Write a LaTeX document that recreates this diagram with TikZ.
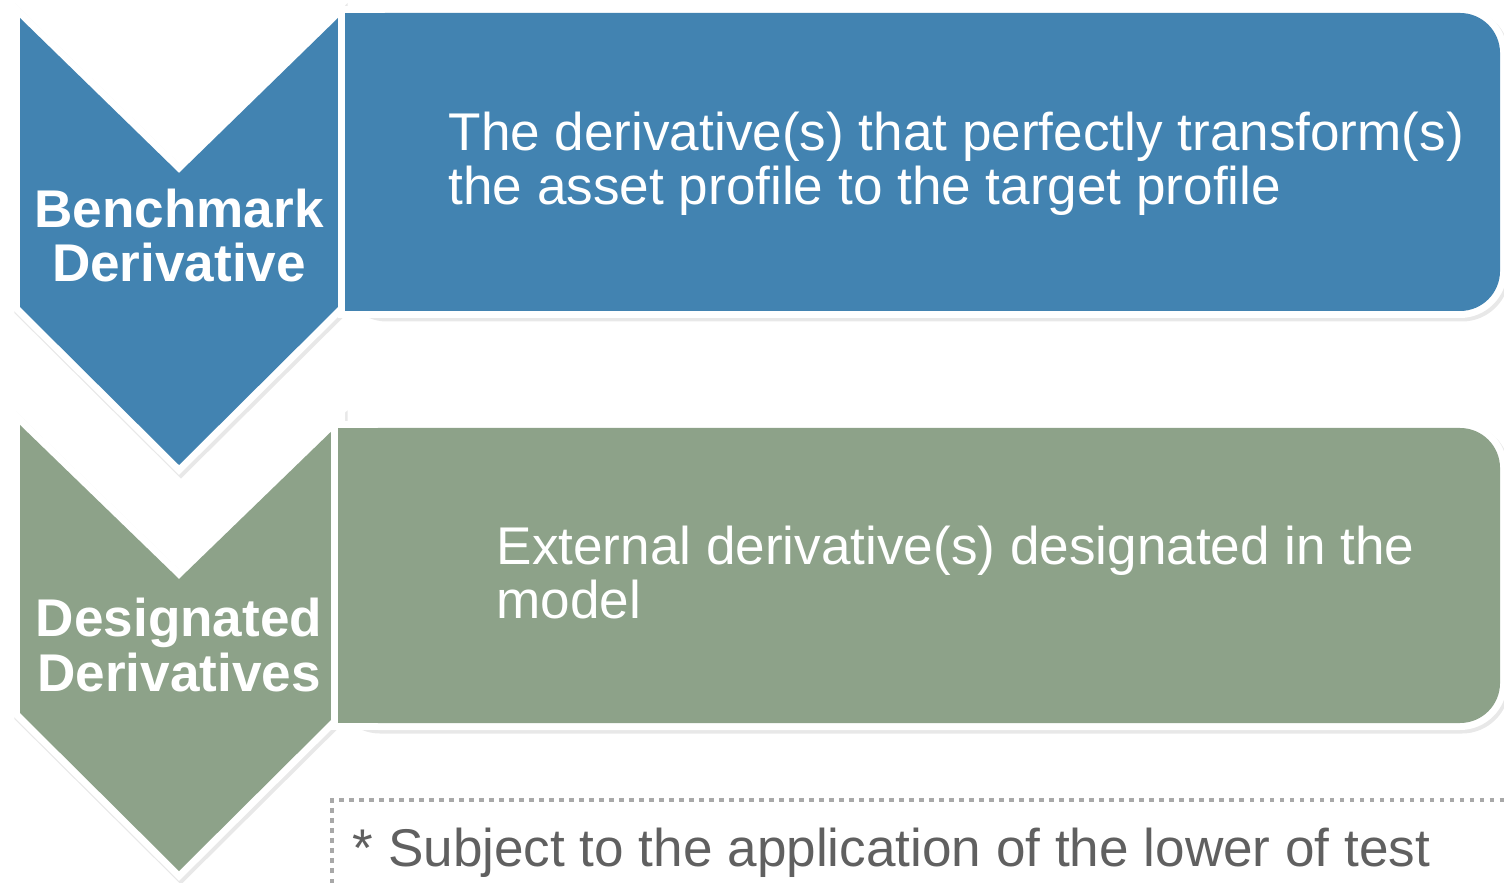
\documentclass[tikz,border=0pt]{standalone}
\usepackage{fontspec}
\setmainfont{Liberation Sans}
\definecolor{bluef}{RGB}{66,131,177}
\definecolor{greenf}{RGB}{141,162,137}
\definecolor{footc}{RGB}{96,96,96}
\definecolor{dotc}{RGB}{168,168,168}
\begin{document}
\begin{tikzpicture}[x=0.01cm,y=-0.01cm,
  border/.style={draw=white,line width=0.14cm,line join=miter},
  shade/.style={draw=black,fill=black,opacity=0.09,line width=0.15cm,line join=miter},
  labeltext/.style={text=white,font=\bfseries\fontsize{15.1pt}{15.6pt}\selectfont,align=center,inner sep=0pt,anchor=base},
  bodytext/.style={text=white,font=\fontsize{15.1pt}{15.6pt}\selectfont,align=left,inner sep=0pt,anchor=base west},
  foottext/.style={text=footc,font=\fontsize{15.1pt}{15.6pt}\selectfont,inner sep=0pt,anchor=base west},
  dotline/.style={draw=dotc,line width=0.045cm,dash pattern=on 0.045cm off 0.055cm}]
\useasboundingbox (0,0) rectangle (1504,883);
\fill[white] (0,0) rectangle (1504,883);

% ---- chevron 1 (blue)
\begin{scope}[shift={(2,3)}]
\path[shade] (20,18) -- (179,173) -- (338,18) -- (338,307) -- (179,465) -- (20,307) -- cycle;
\end{scope}
\path[border] (20,18) -- (179,173) -- (338,18) -- (338,307) -- (179,465) -- (20,307) -- cycle;
\fill[bluef] (20,18) -- (179,173) -- (338,18) -- (338,307) -- (179,465) -- (20,307) -- cycle;

% ---- rectangle 1 (blue)
\begin{scope}[shift={(2,3)}]
\path[shade,rounded corners=0.4cm] (345,13) rectangle (1500,311);
\end{scope}
\path[border,rounded corners=0.4cm] (345,13) rectangle (1500,311);
\path[border] (345,13) rectangle (1400,311);
\fill[bluef,rounded corners=0.4cm] (345,13) rectangle (1500,311);
\fill[bluef] (345,13) rectangle (1400,311);

% ---- chevron 2 (green)
\begin{scope}[shift={(2,3)}]
\path[shade] (20,425) -- (179,579) -- (338,425) -- (338,713) -- (179,871) -- (20,713) -- cycle;
\end{scope}
\path[border] (20,425) -- (179,579) -- (338,425) -- (338,713) -- (179,871) -- (20,713) -- cycle;
\fill[greenf] (20,425) -- (179,579) -- (338,425) -- (338,713) -- (179,871) -- (20,713) -- cycle;

% ---- rectangle 2 (green)
\begin{scope}[shift={(2,3)}]
\path[shade,rounded corners=0.4cm] (338,428) rectangle (1500,723);
\end{scope}
\path[border,rounded corners=0.4cm] (338,428) rectangle (1500,723);
\path[border] (338,428) rectangle (1400,723);
\fill[greenf,rounded corners=0.4cm] (338,428) rectangle (1500,723);
\fill[greenf] (338,428) rectangle (1400,723);

% ---- texts (base anchor = baseline of last line)
\node[labeltext] (bench) at (179,282) {Benchmark\\Derivative};
\node[bodytext] (benchdesc) at (448,205) {The derivative(s) that perfectly transform(s)\\the asset profile to the target profile};
\node[labeltext] (desig) at (179,691) {Designated\\Derivatives};
\node[bodytext] (desigdesc) at (496,619) {External derivative(s) designated in the\\model};

% ---- footnote box
\coordinate (boxtl) at (332,800);
\coordinate (boxtr) at (1504,800);
\coordinate (boxbl) at (332,883);
\path[dotline] (boxbl) -- (boxtl) -- (boxtr);
\node[foottext] (foot) at (352,866) {* Subject to the application of the lower of test};
\end{tikzpicture}
\end{document}
